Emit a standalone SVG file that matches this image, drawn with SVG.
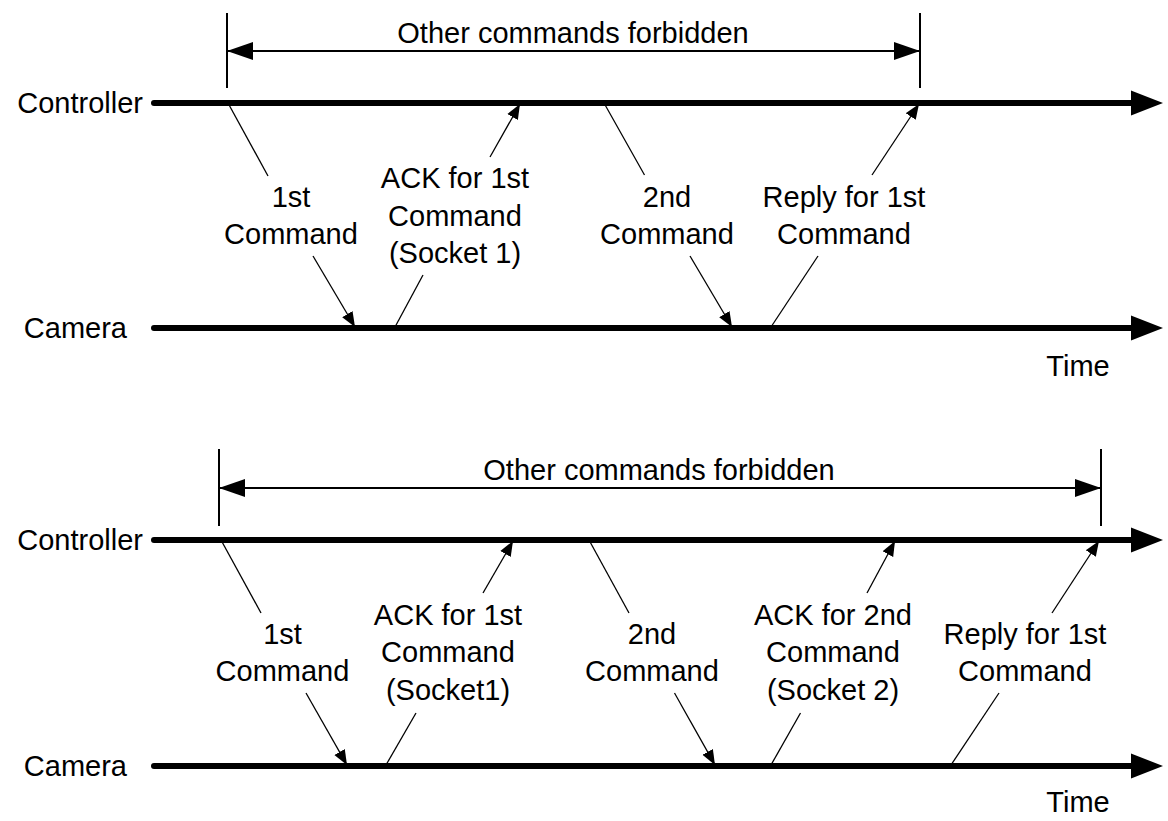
<svg xmlns="http://www.w3.org/2000/svg" width="1168" height="821" viewBox="0 0 1168 821">
<style>
text{font-family:"Liberation Sans",Arial,sans-serif;font-size:29px;fill:#000}
.c{text-anchor:middle}
.e{text-anchor:end}
.tl{stroke:#000;stroke-width:6;stroke-linecap:round;fill:none}
.msg{stroke:#000;stroke-width:1.3;fill:none}
.dim{stroke:#000;stroke-width:2;fill:none}
</style>
<defs>
<marker id="big" markerUnits="userSpaceOnUse" markerWidth="34" markerHeight="26" refX="0" refY="13" orient="auto"><path d="M0,0.5 L32,13 L0,25.5 Z" fill="#000"/></marker>
<marker id="sm" markerUnits="userSpaceOnUse" markerWidth="16" markerHeight="14" refX="15" refY="7" orient="auto"><path d="M0,1 L15,7 L0,13 Z" fill="#000"/></marker>
<marker id="dm" markerUnits="userSpaceOnUse" markerWidth="27" markerHeight="20" refX="26" refY="10" orient="auto-start-reverse"><path d="M0,1 L26,10 L0,19 Z" fill="#000"/></marker>
</defs>
<rect width="1168" height="821" fill="#fff"/>

<g id="top">
<g id="top-controller"><text class="e" x="143" y="113">Controller</text><line class="tl" x1="154" y1="103" x2="1131" y2="103" marker-end="url(#big)"/></g>
<g id="top-camera"><text class="e" x="127" y="338">Camera</text><line class="tl" x1="154" y1="328" x2="1131" y2="328" marker-end="url(#big)"/></g>
<g id="top-time"><text class="c" x="1078" y="376">Time</text></g>
<g id="top-forbidden">
<line class="dim" x1="227" y1="13" x2="227" y2="88"/>
<line class="dim" x1="920" y1="13" x2="920" y2="88"/>
<line class="dim" x1="227" y1="51" x2="920" y2="51" marker-start="url(#dm)" marker-end="url(#dm)"/>
<text class="c" x="573" y="43">Other commands forbidden</text>
</g>
<g id="top-labels">
<text class="c" x="291" y="207">1st</text><text class="c" x="291" y="244">Command</text>
<text class="c" x="455" y="188">ACK for 1st</text><text class="c" x="455" y="225.5">Command</text><text class="c" x="455" y="263">(Socket 1)</text>
<text class="c" x="667" y="207">2nd</text><text class="c" x="667" y="244">Command</text>
<text class="c" x="844" y="207">Reply for 1st</text><text class="c" x="844" y="244">Command</text>
</g>
<g id="top-connectors">
<line class="msg" x1="228" y1="103" x2="268" y2="176"/>
<line class="msg" x1="313" y1="256" x2="355" y2="327" marker-end="url(#sm)"/>
<line class="msg" x1="395" y1="327" x2="423" y2="275"/>
<line class="msg" x1="490" y1="157" x2="520" y2="104" marker-end="url(#sm)"/>
<line class="msg" x1="604" y1="103" x2="644.5" y2="175"/>
<line class="msg" x1="690" y1="256" x2="732" y2="327" marker-end="url(#sm)"/>
<line class="msg" x1="771" y1="327" x2="818" y2="256"/>
<line class="msg" x1="872" y1="175" x2="919" y2="104" marker-end="url(#sm)"/>
</g>
</g>

<g id="bottom">
<g id="bot-controller"><text class="e" x="143" y="550">Controller</text><line class="tl" x1="154" y1="540" x2="1131" y2="540" marker-end="url(#big)"/></g>
<g id="bot-camera"><text class="e" x="127" y="776">Camera</text><line class="tl" x1="154" y1="766" x2="1131" y2="766" marker-end="url(#big)"/></g>
<g id="bot-time"><text class="c" x="1078" y="812">Time</text></g>
<g id="bot-forbidden">
<line class="dim" x1="219" y1="449" x2="219" y2="526"/>
<line class="dim" x1="1101" y1="449" x2="1101" y2="526"/>
<line class="dim" x1="219" y1="488" x2="1101" y2="488" marker-start="url(#dm)" marker-end="url(#dm)"/>
<text class="c" x="659" y="480">Other commands forbidden</text>
</g>
<g id="bot-labels">
<text class="c" x="282.5" y="643.5">1st</text><text class="c" x="282.5" y="681">Command</text>
<text class="c" x="448" y="624.5">ACK for 1st</text><text class="c" x="448" y="662">Command</text><text class="c" x="448" y="700">(Socket1)</text>
<text class="c" x="652" y="643.5">2nd</text><text class="c" x="652" y="681">Command</text>
<text class="c" x="833" y="624.5">ACK for 2nd</text><text class="c" x="833" y="662">Command</text><text class="c" x="833" y="700">(Socket 2)</text>
<text class="c" x="1025" y="643.5">Reply for 1st</text><text class="c" x="1025" y="681">Command</text>
</g>
<g id="bot-connectors">
<line class="msg" x1="221" y1="540" x2="261" y2="613"/>
<line class="msg" x1="306" y1="693" x2="347" y2="765" marker-end="url(#sm)"/>
<line class="msg" x1="386" y1="765" x2="416" y2="713"/>
<line class="msg" x1="483" y1="593" x2="513" y2="541" marker-end="url(#sm)"/>
<line class="msg" x1="589" y1="540" x2="629" y2="613"/>
<line class="msg" x1="674.5" y1="693" x2="715" y2="765" marker-end="url(#sm)"/>
<line class="msg" x1="771" y1="765" x2="800.5" y2="713"/>
<line class="msg" x1="867" y1="593" x2="895" y2="541" marker-end="url(#sm)"/>
<line class="msg" x1="951" y1="765" x2="999" y2="693"/>
<line class="msg" x1="1052" y1="613" x2="1099" y2="541" marker-end="url(#sm)"/>
</g>
</g>
</svg>
